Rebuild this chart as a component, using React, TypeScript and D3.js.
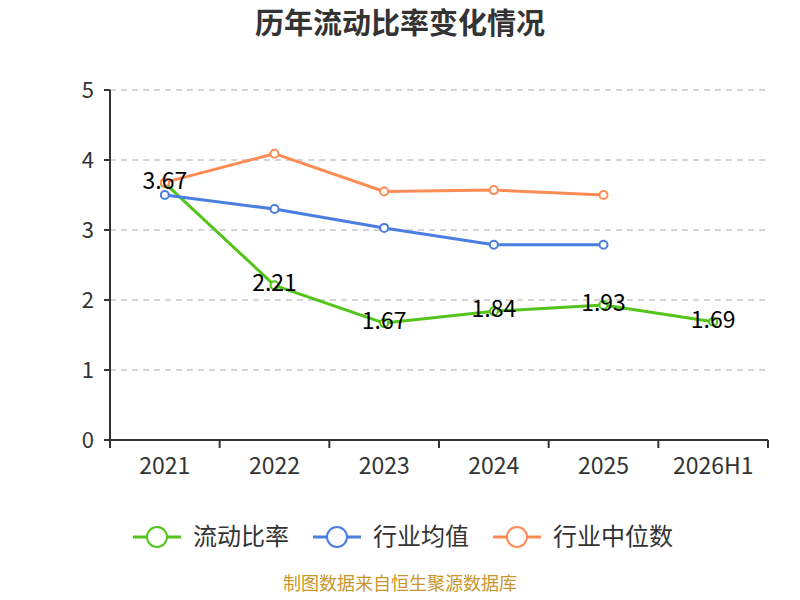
import React from "react";
import * as d3 from "d3";

const categories = ["2021", "2022", "2023", "2024", "2025", "2026H1"];
const currentRatio = [3.67, 2.21, 1.67, 1.84, 1.93, 1.69];
const industryMean = [3.5, 3.3, 3.03, 2.79, 2.79];
const industryMedian = [3.68, 4.09, 3.55, 3.57, 3.5];
const yTicks = [0, 1, 2, 3, 4, 5];

const seriesNames = ["流动比率", "行业均值", "行业中位数"];
const colors = ["#52c41a", "#4a7ee0", "#ff8c55"];

const width = 800;
const height = 600;
const margin = { top: 90, right: 32, bottom: 160, left: 110 };
const font = "'Noto Sans CJK SC', 'Noto Sans', sans-serif";

export default function App() {
  const x = d3
    .scaleBand<string>()
    .domain(categories)
    .range([margin.left, width - margin.right]);
  const y = d3
    .scaleLinear()
    .domain([0, 5])
    .range([height - margin.bottom, margin.top]);

  const cx = (c: string) => (x(c) || 0) + x.bandwidth() / 2;
  const line = d3
    .line<number>()
    .x((d, i) => cx(categories[i]))
    .y((d) => y(d));

  const series = [currentRatio, industryMean, industryMedian];
  const legendX = [133, 313, 493];

  return (
    <svg width={width} height={height} style={{ position: "absolute", left: 0, top: 0 }} fontFamily={font}>
      <rect width={width} height={height} fill="#fff" />
      <text x={400} y={34} textAnchor="middle" fontSize={29} fontWeight="bold" fill="#333">
        历年流动比率变化情况
      </text>

      {/* grid */}
      {yTicks.slice(1).map((t) => (
        <line
          key={t}
          x1={margin.left}
          x2={width - margin.right}
          y1={y(t)}
          y2={y(t)}
          stroke="#c8c8c8"
          strokeWidth={1.5}
          strokeDasharray="6,5"
        />
      ))}

      {/* y axis */}
      <line x1={margin.left} x2={margin.left} y1={y(5)} y2={y(0)} stroke="#333" strokeWidth={2} />
      {yTicks.map((t) => (
        <g key={t}>
          <line x1={margin.left - 6} x2={margin.left} y1={y(t)} y2={y(t)} stroke="#333" strokeWidth={2} />
          <text x={margin.left - 16} y={y(t)} dy="0.35em" textAnchor="end" fontSize={22} fill="#333">
            {t}
          </text>
        </g>
      ))}

      {/* x axis */}
      <line x1={margin.left - 6} x2={width - margin.right} y1={y(0)} y2={y(0)} stroke="#333" strokeWidth={2} />
      {categories.map((c) => (
        <line key={c} x1={x(c)} x2={x(c)} y1={y(0)} y2={y(0) + 8} stroke="#333" strokeWidth={2} />
      ))}
      <line
        x1={width - margin.right}
        x2={width - margin.right}
        y1={y(0)}
        y2={y(0) + 8}
        stroke="#333"
        strokeWidth={2}
      />
      {categories.map((c) => (
        <text key={c} x={cx(c)} y={y(0) + 26} dy="0.35em" textAnchor="middle" fontSize={23} fill="#333">
          {c}
        </text>
      ))}

      {/* lines */}
      {series.map((s, si) => (
        <g key={si}>
          <path d={line(s) || ""} fill="none" stroke={colors[si]} strokeWidth={3} strokeLinejoin="round" />
          {s.map((v, i) => (
            <circle key={i} cx={cx(categories[i])} cy={y(v)} r={4} fill="#fff" stroke={colors[si]} strokeWidth={2} />
          ))}
        </g>
      ))}

      {/* labels */}
      {currentRatio.map((v, i) => (
        <text key={i} x={cx(categories[i])} y={y(v) - 2} dy="0.35em" textAnchor="middle" fontSize={23} fill="#000">
          {v.toFixed(2)}
        </text>
      ))}

      {/* legend */}
      {seriesNames.map((n, i) => (
        <g key={n}>
          <line x1={legendX[i]} x2={legendX[i] + 48} y1={537} y2={537} stroke={colors[i]} strokeWidth={3} />
          <circle cx={legendX[i] + 24} cy={537} r={10} fill="#fff" stroke={colors[i]} strokeWidth={2} />
          <text x={legendX[i] + 60} y={537} dy="0.35em" fontSize={24} fill="#333">
            {n}
          </text>
        </g>
      ))}

      <text x={400} y={590} textAnchor="middle" fontSize={18} fill="#c8962a">
        制图数据来自恒生聚源数据库
      </text>
    </svg>
  );
}
